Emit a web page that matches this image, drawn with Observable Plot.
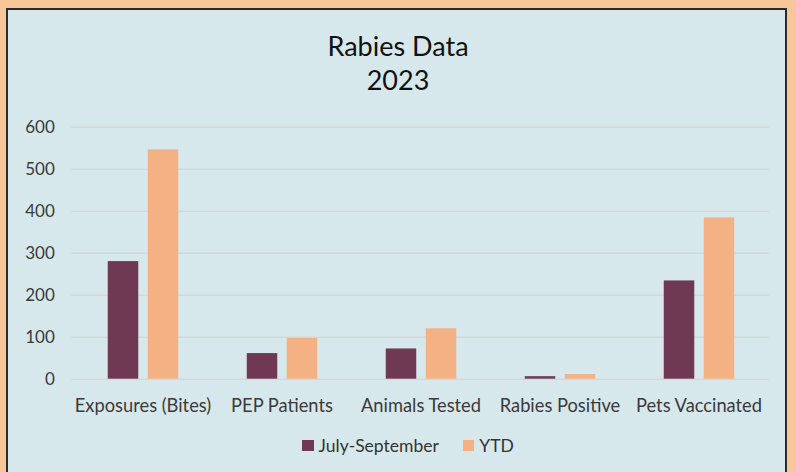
<!DOCTYPE html>
<html>
<head>
<meta charset="utf-8">
<script src="https://cdn.jsdelivr.net/npm/d3@7"></script>
<script src="https://cdn.jsdelivr.net/npm/@observablehq/plot@0.6"></script>
<style>
  html, body { margin: 0; padding: 0; }
  body { width: 796px; height: 472px; background: #F8C799; position: relative; overflow: hidden; font-family: Lato, "Open Sans", sans-serif; }
  #panel { position: absolute; left: 6px; top: 8px; width: 781px; height: 480px; background: #D7E8EC; border: 2px solid #2b2b2b; box-sizing: border-box; }
  #title { position: absolute; left: 0; top: 29px; width: 796px; text-align: center; font-size: 27px; line-height: 34px; color: #111; }
  #chart { position: absolute; left: 0; top: 110px; }
  #legend { position: absolute; left: 10px; top: 435px; width: 796px; display: flex; justify-content: center; align-items: center; font-size: 17.5px; color: #333; }
  .item { display: flex; align-items: center; margin: 0 12px; }
  .sw { width: 11.5px; height: 11.5px; margin-right: 5px; }
  #chart svg g[aria-label="y-axis tick label"] text { font-size: 17px; }
  #chart svg g[aria-label="x-axis tick label"] text { font-size: 18.3px; }
</style>
</head>
<body>
<div id="panel"></div>
<div id="title">Rabies Data<br>2023</div>
<div id="chart"></div>
<div id="legend"></div>
<script>
const categories = ["Exposures (Bites)", "PEP Patients", "Animals Tested", "Rabies Positive", "Pets Vaccinated"];
const seriesNames = ["July-September", "YTD"];
const julySep = [280, 61, 72, 6, 234];
const ytd = [546, 97, 120, 11, 384];
const yTicks = [0, 100, 200, 300, 400, 500, 600];
const colors = ["#6F3954", "#F4B183"];

const julyData = categories.map((c, i) => ({category: c, value: julySep[i]}));
const ytdData = categories.map((c, i) => ({category: c, value: ytd[i]}));

const plot = Plot.plot({
  width: 796,
  height: 310,
  marginTop: 16.7,
  marginBottom: 41.3,
  marginLeft: 71.25,
  marginRight: 27.25,
  style: {background: "transparent", fontFamily: "Lato, 'Open Sans', sans-serif", fontSize: "17px", color: "#3a3a3a"},
  x: {domain: categories, padding: 0, label: null, tickSize: 0, tickPadding: 20},
  y: {domain: [0, 600], ticks: yTicks, label: null, tickSize: 0, tickPadding: 17},
  marks: [
    Plot.ruleY(yTicks, {stroke: "#D6D6D6", strokeWidth: 1.5}),
    Plot.barY(julyData, {x: "category", y: "value", fill: colors[0], insetLeft: 34.75, insetRight: 73.75}),
    Plot.barY(ytdData, {x: "category", y: "value", fill: colors[1], insetLeft: 74.75, insetRight: 33.75})
  ]
});
document.getElementById("chart").appendChild(plot);

const legend = document.getElementById("legend");
seriesNames.forEach((name, i) => {
  const item = document.createElement("div");
  item.className = "item";
  const sw = document.createElement("div");
  sw.className = "sw";
  sw.style.background = colors[i];
  const label = document.createElement("span");
  label.textContent = name;
  item.appendChild(sw);
  item.appendChild(label);
  legend.appendChild(item);
});
</script>
</body>
</html>
